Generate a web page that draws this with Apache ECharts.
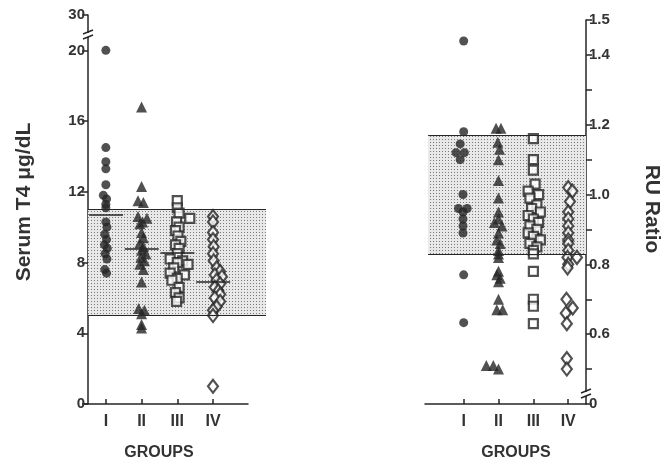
<!DOCTYPE html>
<html>
<head>
<meta charset="utf-8">
<script src="https://cdn.jsdelivr.net/npm/echarts@6/dist/echarts.min.js"></script>
<style>
  html, body { margin: 0; padding: 0; background: #fff; }
  #chart { width: 662px; height: 462px; }
</style>
</head>
<body>
<div id="chart"></div>
<script>
// groups on both panels
var groups = ['I', 'II', 'III', 'IV']

// left panel: serum T4 (ug/dL). axis is broken above 20, the top tick (22) is labelled 30
var t4LabelValues = [0, 4, 8, 12, 16, 20, 22]
var t4Normal = [5, 11]
var t4Means = [10.7, 8.8, 8.55, 6.9]
// [group position, value]
var t4GroupI = [[1, 20.0], [1, 14.5], [1, 13.7], [1, 13.3], [1, 12.4], [0.93, 11.8], [1.02, 11.6], [1, 11.3],
  [1, 11.1], [1, 10.3], [1.03, 10.0], [0.97, 9.6], [1.02, 9.3], [0.96, 9.0], [1.04, 8.8], [0.98, 8.5],
  [1.03, 8.2], [0.97, 7.6], [1.02, 7.4]]
var t4GroupII = [[2, 16.8], [2, 12.3], [1.9, 11.5], [2.05, 11.4], [1.9, 10.6], [2.15, 10.5], [2.03, 10.3],
  [1.95, 10.2], [2, 9.7], [2.05, 9.4], [1.95, 9.1], [2.05, 8.9], [2, 8.7], [2.12, 8.5], [1.98, 8.3],
  [2.08, 8.1], [1.95, 7.9], [2.05, 7.6], [2, 6.9], [1.92, 5.4], [2.08, 5.3], [2, 5.1], [2, 4.5], [2, 4.3]]
var t4GroupIII = [[3, 11.5], [3, 11.1], [3.05, 10.8], [3.35, 10.5], [2.98, 10.3], [3.05, 10.0], [2.95, 9.8],
  [3.02, 9.5], [3.1, 9.2], [2.95, 9.0], [3.05, 8.8], [3, 8.5], [2.8, 8.2], [3.15, 8.1], [3, 8.0], [3.3, 7.9],
  [2.9, 7.7], [2.8, 7.4], [3.2, 7.3], [3, 7.1], [2.85, 7.0], [3.05, 6.6], [2.95, 6.3], [3.05, 6.0], [2.98, 5.8]]
var t4GroupIV = [[4, 10.6], [4, 10.3], [4, 9.7], [4, 9.3], [4.02, 8.9], [4, 8.5], [4.02, 8.1], [4.1, 7.7],
  [4.2, 7.5], [4.05, 7.3], [4.25, 7.2], [4.1, 7.0], [4.2, 6.8], [4.05, 6.6], [4.15, 6.4], [4.2, 6.2],
  [4.05, 6.0], [4.2, 5.8], [4.1, 5.5], [4, 5.3], [4, 5.0], [4, 1.0]]

// right panel: RU ratio. axis is broken below 0.5, the bottom tick (0.4) is labelled 0
var ruLabelValues = [0.4, 0.6, 0.8, 1.0, 1.2, 1.4, 1.5]
var ruTickValues = [0.4, 0.5, 0.6, 0.7, 0.8, 0.9, 1.0, 1.1, 1.2, 1.3, 1.4, 1.5]
var ruNormal = [0.83, 1.17]
var ruGroupI = [[1, 1.44], [1, 1.18], [0.9, 1.145], [0.78, 1.12], [1.02, 1.12], [0.9, 1.10], [0.98, 1.0],
  [0.85, 0.96], [1.1, 0.96], [0.98, 0.95], [0.98, 0.93], [0.98, 0.91], [0.98, 0.89], [1, 0.77], [1, 0.633]]
var ruGroupII = [[1.93, 1.19], [2.07, 1.19], [1.98, 1.15], [2.03, 1.13], [2, 1.10], [2, 1.04], [2, 0.99],
  [2, 0.95], [2, 0.93], [1.88, 0.92], [2.1, 0.91], [2, 0.89], [1.95, 0.87], [2.05, 0.86], [2, 0.84],
  [2, 0.83], [2, 0.82], [2, 0.78], [1.95, 0.77], [2.05, 0.76], [2, 0.75], [2, 0.70], [1.95, 0.67],
  [2.12, 0.67], [1.65, 0.51], [1.85, 0.51], [2, 0.50]]
var ruGroupIII = [[3, 1.16], [3, 1.10], [3, 1.07], [3.05, 1.03], [2.85, 1.01], [3.15, 1.0], [2.9, 0.99],
  [3.1, 0.97], [2.95, 0.96], [3.2, 0.95], [2.85, 0.94], [3, 0.93], [3.15, 0.92], [2.9, 0.91], [3.1, 0.90],
  [2.85, 0.89], [3, 0.88], [3.2, 0.87], [2.9, 0.86], [3.1, 0.85], [3, 0.84], [3, 0.83], [3, 0.78],
  [3, 0.70], [3, 0.68], [3, 0.63]]
var ruGroupIV = [[4, 1.02], [4.12, 1.01], [4.05, 0.98], [4, 0.95], [4, 0.93], [4, 0.91], [4, 0.89],
  [4, 0.87], [4, 0.86], [4, 0.84], [3.98, 0.82], [4.25, 0.82], [4, 0.80], [3.98, 0.79], [3.95, 0.70],
  [4.13, 0.675], [3.93, 0.66], [3.96, 0.63], [3.96, 0.53], [3.96, 0.50]]

var INK = '#262626'
var TEXT = '#333'
var FONT = '"Liberation Sans", Arial, sans-serif'

// dotted fill for the normal range band
function stipple() {
  var c = document.createElement('canvas')
  c.width = 3
  c.height = 3
  var ctx = c.getContext('2d')
  ctx.fillStyle = '#e8e8e8'
  ctx.fillRect(0, 0, 3, 3)
  ctx.fillStyle = '#7a7a7a'
  ctx.fillRect(1, 1, 1, 1)
  return c
}
var bandFill = { image: stipple(), repeat: 'repeat' }

var tickLabel = { fontSize: 15, fontWeight: 'bold', color: TEXT, fontFamily: FONT }
var axisLine = { show: true, onZero: false, lineStyle: { color: INK, width: 1.5 } }

var symbols = ['circle', 'triangle', 'rect', 'diamond']
var sizes = [9, 11, 9, [10, 13]]
var filled = [true, true, false, false]

function groupSeries(data, g, xi, means) {
  var s = {
    type: 'scatter',
    xAxisIndex: xi,
    yAxisIndex: xi,
    z: 3,
    symbol: symbols[g],
    symbolSize: sizes[g],
    itemStyle: filled[g]
      ? { color: INK }
      : { color: '#fff', borderColor: INK, borderWidth: 2.2 },
    data: data,
  }
  if (means) {
    s.markLine = {
      silent: true,
      symbol: 'none',
      label: { show: false },
      lineStyle: { color: INK, width: 1.5, type: 'solid' },
      data: [[{ coord: [g + 1 - 0.47, means[g]] }, { coord: [g + 1 + 0.48, means[g]] }]],
    }
  }
  return s
}

function breakMark(x, y) {
  return [
    { type: 'rect', shape: { x: x - 4, y: y - 2, width: 8, height: 4 }, style: { fill: '#fff' }, z: 100 },
    { type: 'line', shape: { x1: x - 5, y1: y - 1, x2: x + 5, y2: y - 5 }, style: { stroke: INK, lineWidth: 1.5 }, z: 101 },
    { type: 'line', shape: { x1: x - 5, y1: y + 4, x2: x + 5, y2: y }, style: { stroke: INK, lineWidth: 1.5 }, z: 101 },
  ]
}

var chart = echarts.init(document.getElementById('chart'))

var option = {
  animation: false,
  backgroundColor: '#fff',
  grid: [
    { left: 83, top: 15, width: 165, height: 389, outerBoundsMode: 'none' },
    { left: 88, top: 15, width: 178, height: 389, outerBoundsMode: 'none' },
    { left: 425, top: 20, width: 161, height: 384, outerBoundsMode: 'none' },
  ],
  xAxis: [
    {
      gridIndex: 0, type: 'value', min: 0.36, max: 4.98,
      axisLine: axisLine,
      axisTick: { customValues: [1, 2, 3, 4], inside: true, length: 5, lineStyle: { color: INK, width: 1.5 } },
      axisLabel: { customValues: [1, 2, 3, 4], margin: 10, fontSize: 16, fontWeight: 'bold', color: TEXT, fontFamily: FONT,
        formatter: function (v) { return groups[v - 1] } },
      splitLine: { show: false },
    },
    { gridIndex: 1, type: 'value', min: 0, max: 1, show: false },
    {
      gridIndex: 2, type: 'value', min: -0.11, max: 4.51,
      axisLine: axisLine,
      axisTick: { customValues: [1, 2, 3, 4], inside: true, length: 5, lineStyle: { color: INK, width: 1.5 } },
      axisLabel: { customValues: [1, 2, 3, 4], margin: 10, fontSize: 16, fontWeight: 'bold', color: TEXT, fontFamily: FONT,
        formatter: function (v) { return groups[v - 1] } },
      splitLine: { show: false },
    },
  ],
  yAxis: [
    {
      gridIndex: 0, type: 'value', min: 0, max: 22, offset: -5,
      axisLine: axisLine,
      axisTick: { customValues: t4LabelValues, length: 6, lineStyle: { color: INK, width: 1.5 } },
      axisLabel: Object.assign({ customValues: t4LabelValues, margin: 3,
        formatter: function (v) { return v === 22 ? '30' : String(v) } }, tickLabel),
      splitLine: { show: false },
    },
    { gridIndex: 1, type: 'value', min: 0, max: 22, show: false },
    {
      gridIndex: 2, type: 'value', position: 'right', min: 0.4, max: 1.5,
      axisLine: axisLine,
      axisTick: { customValues: ruTickValues, length: 6, lineStyle: { color: INK, width: 1.5 } },
      axisLabel: Object.assign({ customValues: ruLabelValues, margin: 3,
        formatter: function (v) { return Math.abs(v - 0.4) < 1e-6 ? '0' : v.toFixed(1) } }, tickLabel),
      splitLine: { show: false },
    },
  ],
  series: [
    // normal range, left
    {
      type: 'scatter', xAxisIndex: 1, yAxisIndex: 1, z: 1, data: [],
      markArea: { silent: true, itemStyle: { color: bandFill }, data: [[{ yAxis: t4Normal[0] }, { yAxis: t4Normal[1] }]] },
      markLine: {
        silent: true, symbol: 'none', label: { show: false },
        lineStyle: { color: INK, width: 1.2, type: 'solid' },
        data: [{ yAxis: t4Normal[0] }, { yAxis: t4Normal[1] }],
      },
    },
    // normal range, right
    {
      type: 'scatter', xAxisIndex: 2, yAxisIndex: 2, z: 1, data: [],
      markArea: { silent: true, itemStyle: { color: bandFill },
        data: [[{ xAxis: -0.02, yAxis: ruNormal[0] }, { xAxis: 4.51, yAxis: ruNormal[1] }]] },
      markLine: {
        silent: true, symbol: 'none', label: { show: false },
        lineStyle: { color: INK, width: 1.2, type: 'solid' },
        data: [
          [{ coord: [-0.02, ruNormal[0]] }, { coord: [4.51, ruNormal[0]] }],
          [{ coord: [-0.02, ruNormal[1]] }, { coord: [4.51, ruNormal[1]] }],
        ],
      },
    },
    groupSeries(t4GroupI, 0, 0, t4Means),
    groupSeries(t4GroupII, 1, 0, t4Means),
    groupSeries(t4GroupIII, 2, 0, t4Means),
    groupSeries(t4GroupIV, 3, 0, t4Means),
    groupSeries(ruGroupI, 0, 2),
    groupSeries(ruGroupII, 1, 2),
    groupSeries(ruGroupIII, 2, 2),
    groupSeries(ruGroupIV, 3, 2),
  ],
  graphic: [
    { type: 'text', x: 24, y: 202, rotation: Math.PI / 2,
      style: { text: 'Serum T4 \u03bcg/dL', align: 'center', verticalAlign: 'middle',
        font: 'bold 21px ' + FONT, fill: TEXT } },
    { type: 'text', x: 652, y: 209, rotation: -Math.PI / 2,
      style: { text: 'RU Ratio', align: 'center', verticalAlign: 'middle',
        font: 'bold 21px ' + FONT, fill: TEXT } },
    { type: 'text', x: 159, y: 453,
      style: { text: 'GROUPS', align: 'center', verticalAlign: 'middle', font: 'bold 16px ' + FONT, fill: TEXT } },
    { type: 'text', x: 516, y: 453,
      style: { text: 'GROUPS', align: 'center', verticalAlign: 'middle', font: 'bold 16px ' + FONT, fill: TEXT } },
  ].concat(breakMark(88, 35), breakMark(586, 394)),
}

chart.setOption(option)
</script>
</body>
</html>
